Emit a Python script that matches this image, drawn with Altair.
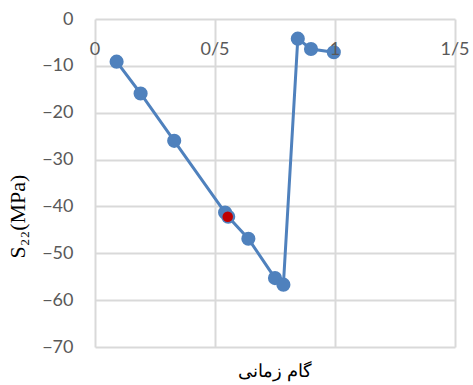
import altair as alt
import pandas as pd

x_vals = [0.09, 0.19, 0.33, 0.542, 0.555, 0.639, 0.75, 0.785, 0.845, 0.90, 0.995]
y_vals = [-9.1, -15.9, -26.0, -41.3, -42.2, -46.9, -55.3, -56.7, -4.2, -6.4, -7.1]
red_x = [0.553]
red_y = [-42.2]
x_ticks = [0, 0.5, 1, 1.5]
x_tick_labels = ["0", "0/5", "1", "1/5"]
y_ticks = [0, -10, -20, -30, -40, -50, -60, -70]

df = pd.DataFrame({"x": x_vals, "y": y_vals, "order": list(range(len(x_vals)))})
dr = pd.DataFrame({"x": red_x, "y": red_y})
dt = pd.DataFrame({"x": x_ticks, "label": x_tick_labels})

label_font = "Lato"
grey = "#595959"
grid = "#d9d9d9"
blue = "#4f81bd"

x_enc = alt.X(
    "x:Q", scale=alt.Scale(domain=[0, 1.5], nice=False, zero=False),
    axis=alt.Axis(
        values=x_ticks, title=None, ticks=False, tickSize=0,
        domain=False, labels=False, grid=True, gridColor=grid, gridWidth=2,
    ),
)
y_enc = alt.Y(
    "y:Q",
    scale=alt.Scale(domain=[-70, 0], nice=False, zero=False),
    axis=alt.Axis(
        values=y_ticks, ticks=False, tickSize=0, domain=False,
        labelPadding=22, labelFont=label_font, labelFontSize=18, labelColor=grey,
        grid=True, gridColor=grid, gridWidth=2,
        title="S₂₂(MPa)", titleFont="Liberation Serif", titleFontSize=22,
        titleFontWeight="normal", titleColor="#000000",
        titleX=-66, titleY=197, titleAngle=-90,
    ),
)

line = alt.Chart(df).mark_line(color=blue, strokeWidth=3).encode(
    x=x_enc, y=y_enc, order="order:Q"
)
pts = alt.Chart(df).mark_circle(color=blue, size=200, opacity=1).encode(
    x="x:Q", y="y:Q"
)
red = alt.Chart(dr).mark_circle(color="#c00000", size=110, opacity=1).encode(
    x="x:Q", y="y:Q"
)
xlabels = alt.Chart(dt).mark_text(
    font=label_font, fontSize=18, color=grey, baseline="middle", align="center"
).encode(x="x:Q", y=alt.value(31), text="label:N")

chart = (
    alt.layer(line, pts, red, xlabels)
    .properties(
        width=360, height=328,
        autosize=alt.AutoSizeParams(type="none"),
        padding={"left": 95, "top": 19, "right": 18, "bottom": 38},
        title=alt.TitleParams(
            text="گام زمانی", orient="bottom", anchor="middle",
            font="DejaVu Serif", fontSize=18, fontWeight="normal",
            color="#000000", offset=7, baseline="top",
        ),
    )
    .configure_view(stroke=None)
)

chart.save("out.html", embed_options={"renderer": "svg", "actions": False})
